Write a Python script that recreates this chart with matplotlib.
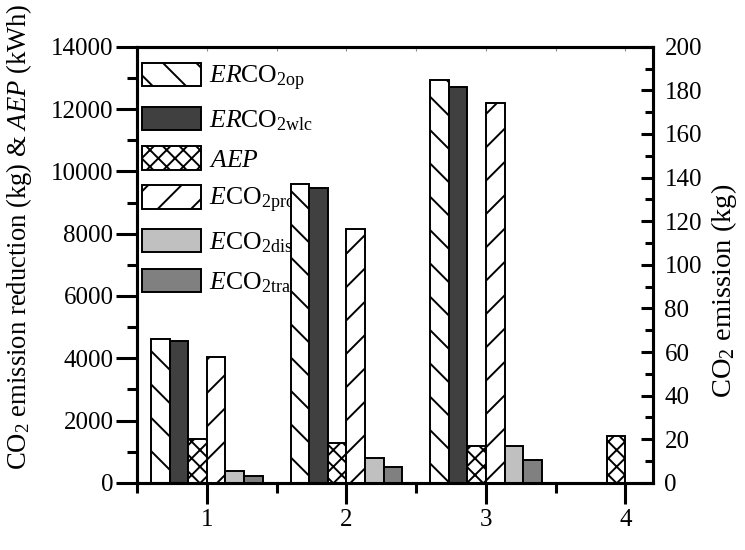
import numpy as np
import matplotlib
matplotlib.use('Agg')
import matplotlib.pyplot as plt
from matplotlib.ticker import MultipleLocator

plt.rcParams['font.family'] = 'Liberation Serif'
plt.rcParams['mathtext.fontset'] = 'custom'
plt.rcParams['mathtext.rm'] = 'Liberation Serif'
plt.rcParams['mathtext.it'] = 'Liberation Serif:italic'
plt.rcParams['hatch.linewidth'] = 1.4

# emission reduction and energy production (left axis)
cases = [1, 2, 3, 4]
er_co2_op = [4620, 9590, 12920]
er_co2_wlc = [4540, 9460, 12720]
aep = [1410, 1290, 1190, 1510]
# emissions (right axis)
eco2_pro = [57.9, 116.5, 174.2]
eco2_dis = [5.6, 11.6, 17.0]
eco2_tra = [3.3, 7.1, 10.6]

FS = 18
w = 0.8 / 6
x = np.array(cases, dtype=float)
x3 = x[:3]

fig = plt.figure(figsize=(7.45, 5.5), dpi=100)
ax = fig.add_axes([0.184, 0.122, 0.693, 0.793])
ax2 = ax.twinx()

bar_kw = dict(width=w, edgecolor='black', linewidth=1.4)
b1 = ax.bar(x3 - 2.5 * w, er_co2_op, color='white', hatch='\\', **bar_kw)
b2 = ax.bar(x3 - 1.5 * w, er_co2_wlc, color='#404040', **bar_kw)
b3 = ax.bar(x - 0.5 * w, aep, color='white', hatch='xx', **bar_kw)
b4 = ax2.bar(x3 + 0.5 * w, eco2_pro, color='white', hatch='/', **bar_kw)
b5 = ax2.bar(x3 + 1.5 * w, eco2_dis, color='#c0c0c0', **bar_kw)
b6 = ax2.bar(x3 + 2.5 * w, eco2_tra, color='#808080', **bar_kw)

ax.set_xlim(0.5, 4.2)
ax.set_ylim(0, 14000)
ax2.set_ylim(0, 200)
ax.set_xticks(cases)
ax.xaxis.set_minor_locator(MultipleLocator(0.5))
ax.yaxis.set_major_locator(MultipleLocator(2000))
ax.yaxis.set_minor_locator(MultipleLocator(1000))
ax2.yaxis.set_major_locator(MultipleLocator(20))
ax2.yaxis.set_minor_locator(MultipleLocator(10))

for a in (ax, ax2):
    for s in a.spines.values():
        s.set_linewidth(2.2)

ax.tick_params(axis='y', which='major', direction='out', length=15, width=2.2, labelsize=FS, pad=2)
ax.tick_params(axis='y', which='minor', direction='out', length=7, width=2.2)
ax.tick_params(axis='x', which='major', direction='out', length=15, width=2.2, labelsize=FS, pad=4)
ax.tick_params(axis='x', which='minor', direction='out', length=7, width=2.2)
ax2.tick_params(axis='y', which='major', direction='in', length=9, width=2.2, labelsize=FS, pad=8)
ax2.tick_params(axis='y', which='minor', direction='in', length=6, width=2.2)

# small inward ticks along the top frame
top = ax.secondary_xaxis('top')
top.set_xticks(np.arange(0.5, 4.01, 0.5))
top.tick_params(direction='in', length=3, width=0.8, color='#909090', labeltop=False)
top.spines['top'].set_visible(False)

ax.set_ylabel(r'CO$_2$ emission reduction (kg) & $AEP$ (kWh)', fontsize=19.2)
ax.yaxis.set_label_coords(-0.20, 0.565)
ax2.set_ylabel(r'CO$_2$ emission (kg)', fontsize=20.5)
ax2.yaxis.set_label_coords(1.108, 0.44)

handles = [b1, b2, b3, b4, b5, b6]
labels = [r'$ER$CO$_{\mathrm{2op}}$', r'$ER$CO$_{\mathrm{2wlc}}$', r'$AEP$',
          r'$E$CO$_{\mathrm{2pro}}$', r'$E$CO$_{\mathrm{2dis}}$', r'$E$CO$_{\mathrm{2tra}}$']
leg = ax.legend(handles, labels, loc='upper left', bbox_to_anchor=(0.01, 0.963),
                frameon=False, fontsize=18.5, handlelength=2.3, handleheight=1.02,
                handletextpad=0.28, labelspacing=0.53, borderaxespad=0, borderpad=0)
leg.set_zorder(0.5)

fig.savefig('out.png', dpi=100)
